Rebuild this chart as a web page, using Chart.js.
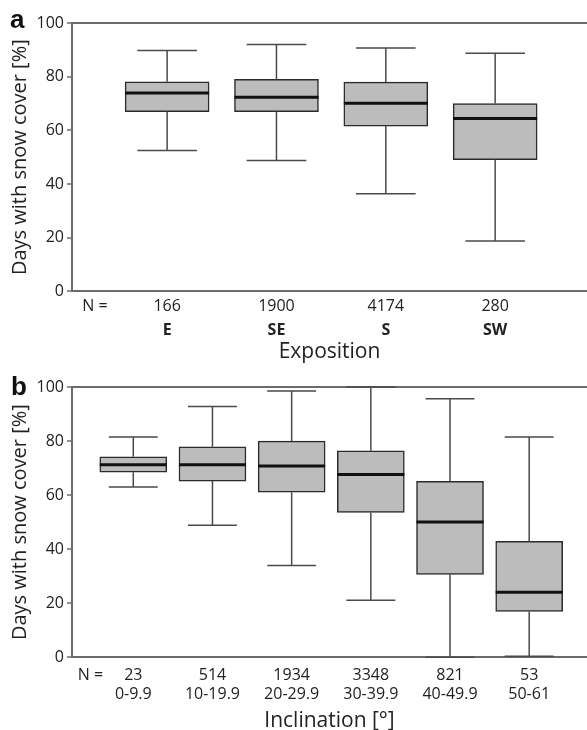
<!DOCTYPE html>
<html>
<head>
<meta charset="utf-8">
<script src="https://cdn.jsdelivr.net/npm/chart.js@4.4.1/dist/chart.umd.min.js"></script>
<style>
  body { margin: 0; background: #fff; }
  .panel { position: absolute; left: 0; width: 587px; height: 365px; }
  .letter { position: absolute; font-family: "Liberation Sans", Arial, sans-serif; font-weight: bold; font-size: 26px; line-height: 30px; color: #111; }
</style>
</head>
<body>
<div class="panel" style="top:0"><canvas id="chartA" width="587" height="365"></canvas></div>
<div class="panel" style="top:365px"><canvas id="chartB" width="587" height="365"></canvas></div>
<div class="letter" style="left:10px;top:4px">a</div>
<div class="letter" style="left:11px;top:371px">b</div>
<script>
// panel a - exposition
const expoCats = ['E', 'SE', 'S', 'SW'];
const expoN = ['166', '1900', '4174', '280'];
const expoMin = [52.5, 48.8, 36.4, 18.8];
const expoQ1 = [67.0, 67.0, 61.6, 49.1];
const expoMed = [73.9, 72.3, 70.1, 64.4];
const expoQ3 = [78.1, 79.0, 78.0, 70.0];
const expoMax = [89.8, 92.0, 90.7, 88.7];

// panel b - inclination
const inclCats = ['0-9.9', '10-19.9', '20-29.9', '30-39.9', '40-49.9', '50-61'];
const inclN = ['23', '514', '1934', '3348', '821', '53'];
const inclMin = [63.0, 48.9, 34.0, 21.1, 0, 0.4];
const inclQ1 = [68.5, 65.2, 61.1, 53.6, 30.7, 17.0];
const inclMed = [71.2, 71.2, 70.8, 67.6, 50.1, 24.1];
const inclQ3 = [74.2, 77.9, 80.0, 76.4, 65.1, 42.9];
const inclMax = [81.5, 92.8, 98.5, 100, 95.7, 81.5];

const yMin = 0, yMax = 100, yStep = 20;

const FONT = '"Open Sans", sans-serif';
const AXIS = '#6b6b6b';
const TEXT = '#222';

// whiskers, caps and median drawn from the scales
const whiskerPlugin = {
    id: 'whiskers',
    afterDatasetsDraw(chart, args, opts) {
        const ctx = chart.ctx;
        const meta = chart.getDatasetMeta(0);
        const ys = chart.scales.y;
        meta.data.forEach((bar, i) => {
            const x = bar.x;
            const half = bar.width / 2;
            const cap = half * opts.capFrac;
            const yLo = ys.getPixelForValue(opts.min[i]);
            const yQ1 = ys.getPixelForValue(opts.q1[i]);
            const yQ3 = ys.getPixelForValue(opts.q3[i]);
            const yHi = ys.getPixelForValue(opts.max[i]);
            const yMed = ys.getPixelForValue(opts.med[i]);
            ctx.save();
            ctx.strokeStyle = '#4a4a4a';
            ctx.lineWidth = 1.5;
            ctx.beginPath();
            ctx.moveTo(x, yQ3); ctx.lineTo(x, yHi);
            ctx.moveTo(x, yQ1); ctx.lineTo(x, yLo);
            ctx.moveTo(x - cap, yHi); ctx.lineTo(x + cap, yHi);
            ctx.moveTo(x - cap, yLo); ctx.lineTo(x + cap, yLo);
            ctx.stroke();
            ctx.strokeStyle = '#111';
            ctx.lineWidth = 3;
            ctx.beginPath();
            ctx.moveTo(x - half, yMed); ctx.lineTo(x + half, yMed);
            ctx.stroke();
            ctx.restore();
        });
    }
};

const yAxis = (title) => ({
    min: yMin,
    max: yMax,
    afterFit: (s) => { s.width = 72; },
    ticks: { stepSize: yStep, padding: 3, color: TEXT, font: { family: FONT, size: 16 } },
    grid: {
        drawOnChartArea: true,
        color: (c) => c.tick && c.tick.value === yMax ? AXIS : 'transparent',
        lineWidth: 2,
        tickColor: AXIS,
        tickLength: 5,
        tickWidth: 1.5
    },
    border: { display: true, color: AXIS, width: 2 },
    title: { display: true, text: title, color: TEXT, font: { family: FONT, size: 20 }, padding: { top: 8, bottom: 0 } }
});

function boxData(q1, q3) {
    return q1.map((v, i) => ({ x: i + 1, y: [v, q3[i]] }));
}

// ---- chart a ----
const aMin = 0.13, aMax = 4.84, aNPos = 0.34;
new Chart(document.getElementById('chartA'), {
    type: 'bar',
    data: {
        datasets: [{
            data: boxData(expoQ1, expoQ3),
            backgroundColor: '#bcbcbc',
            borderColor: '#2b2b2b',
            borderWidth: 1.5,
            borderSkipped: false,
            barThickness: 84
        }]
    },
    options: {
        responsive: false,
        animation: false,
        layout: { padding: { top: 23, right: 0, left: 0, bottom: 0 } },
        plugins: {
            legend: { display: false },
            tooltip: { enabled: false },
            whiskers: { min: expoMin, q1: expoQ1, med: expoMed, q3: expoQ3, max: expoMax, capFrac: 0.71 }
        },
        scales: {
            x: {
                type: 'linear', position: 'bottom', min: aMin, max: aMax, offset: false,
                afterBuildTicks: (s) => { s.ticks = [{ value: aNPos }].concat(expoN.map((n, i) => ({ value: i + 1 }))); },
                ticks: {
                    autoSkip: false, maxRotation: 0, padding: 5, color: TEXT,
                    font: { family: FONT, size: 16 },
                    callback: (v) => v === aNPos ? 'N =' : expoN[v - 1]
                },
                grid: { display: false, drawTicks: false, offset: false },
                border: { display: true, color: AXIS, width: 2 }
            },
            x2: {
                type: 'linear', position: 'bottom', min: aMin, max: aMax, offset: false,
                afterBuildTicks: (s) => { s.ticks = expoCats.map((c, i) => ({ value: i + 1 })); },
                ticks: {
                    autoSkip: false, maxRotation: 0, padding: 0, color: TEXT,
                    font: { family: FONT, size: 16, weight: 'bold' },
                    callback: (v) => expoCats[v - 1]
                },
                grid: { display: false, drawTicks: false, offset: false },
                border: { display: false },
                title: { display: true, text: 'Exposition', color: TEXT, font: { family: FONT, size: 21, lineHeight: 1.2 }, padding: { top: 0, bottom: 0 } }
            },
            y: yAxis('Days with snow cover [%]')
        }
    },
    plugins: [whiskerPlugin]
});

// ---- chart b ----
const bMin = 0.226, bMax = 6.73, bNPos = 0.46;
new Chart(document.getElementById('chartB'), {
    type: 'bar',
    data: {
        datasets: [{
            data: boxData(inclQ1, inclQ3),
            backgroundColor: '#bcbcbc',
            borderColor: '#2b2b2b',
            borderWidth: 1.5,
            borderSkipped: false,
            barThickness: 67
        }]
    },
    options: {
        responsive: false,
        animation: false,
        layout: { padding: { top: 22, right: 0, left: 0, bottom: 0 } },
        plugins: {
            legend: { display: false },
            tooltip: { enabled: false },
            whiskers: { min: inclMin, q1: inclQ1, med: inclMed, q3: inclQ3, max: inclMax, capFrac: 0.73 }
        },
        scales: {
            x: {
                type: 'linear', position: 'bottom', min: bMin, max: bMax, offset: false,
                afterBuildTicks: (s) => { s.ticks = [{ value: bNPos }].concat(inclN.map((n, i) => ({ value: i + 1 }))); },
                ticks: {
                    autoSkip: false, maxRotation: 0, padding: 9, color: TEXT,
                    font: { family: FONT, size: 16, lineHeight: 1.15 },
                    callback: (v) => v === bNPos ? ['N =', ''] : [inclN[v - 1], inclCats[v - 1]]
                },
                grid: { display: false, drawTicks: false, offset: false },
                border: { display: true, color: AXIS, width: 2 },
                title: { display: true, text: 'Inclination [°]', color: TEXT, font: { family: FONT, size: 21, lineHeight: 0.85 }, padding: { top: 0, bottom: 0 } }
            },
            y: yAxis('Days with snow cover [%]')
        }
    },
    plugins: [whiskerPlugin]
});
</script>
</body>
</html>
